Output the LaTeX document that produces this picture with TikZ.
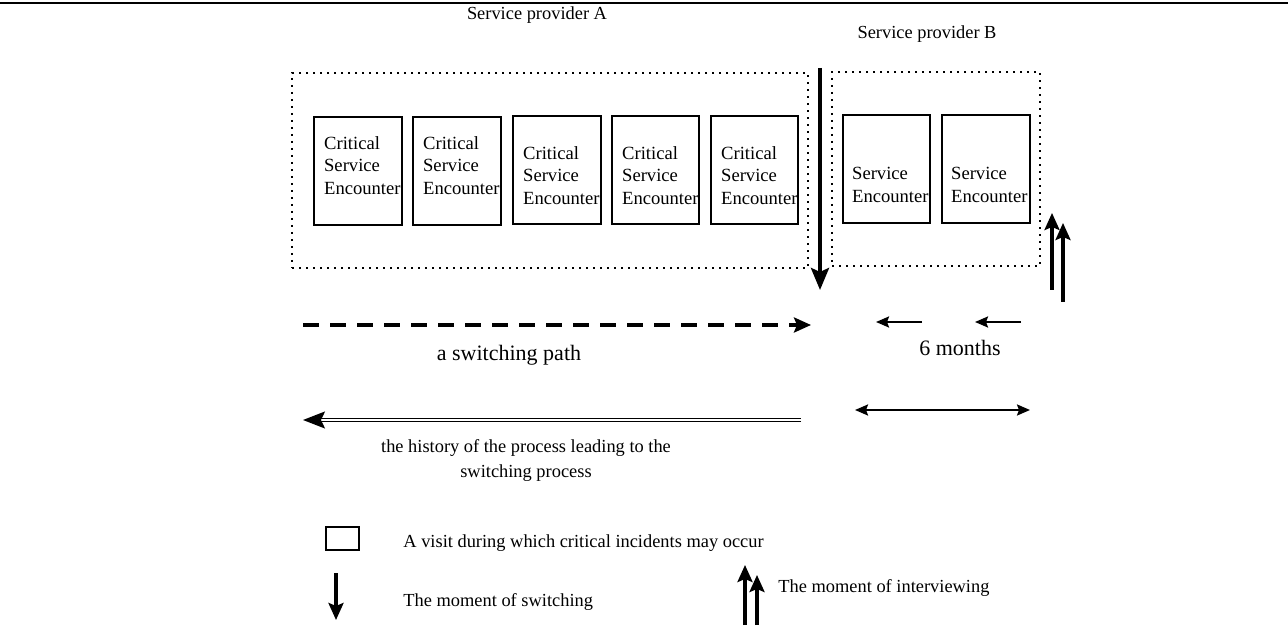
\documentclass[tikz,border=0pt]{standalone}
\usepackage{fontspec}
\setmainfont{Liberation Serif}
\usetikzlibrary{arrows.meta,positioning}

\tikzset{
  encbox/.style={draw, line width=1.25pt, minimum width=44pt, minimum height=54pt, inner sep=0pt},
  enctext/.style={align=left, anchor=west, inner sep=0pt, font=\fontsize{9.3}{11.25}\selectfont},
  providerbox/.style={draw, line width=1.1pt, dash pattern=on 1pt off 2.5pt, inner sep=0pt},
  smalltext/.style={inner sep=0pt, font=\fontsize{9.2}{12.5}\selectfont},
  bigtext/.style={inner sep=0pt, font=\fontsize{11}{13}\selectfont},
  switcharrow/.style={line width=2pt, -{Stealth[length=11pt,width=9pt,inset=2pt]}},
  interviewarrow/.style={line width=1.6pt, -{Stealth[length=8.5pt,width=7.5pt,inset=1.5pt]}},
  montharrow/.style={line width=1.1pt, -{Stealth[length=6.5pt,width=5.5pt,inset=1pt]}},
}

\begin{document}
\begin{tikzpicture}[x=0.5pt, y=-0.5pt]
        \useasboundingbox (0,0) rectangle (1288,635);

        % Rule at the top
        \coordinate (ruleleft) at (0,3);
        \coordinate (ruleright) at (1288,3);
        \draw[line width=1.4pt] (ruleleft) -- (ruleright);

        % Provider headings
        \node[smalltext] (provA) at (537,15) {Service provider A};
        \node[smalltext] (provB) at (927,34) {Service provider B};

        % Dotted provider boxes
        \node[providerbox, minimum width=258pt, minimum height=97.5pt] (boxA) at (550,170.5) {};
        \node[providerbox, minimum width=104pt, minimum height=97pt] (boxB) at (936,169) {};

        % Critical service encounters (provider A)
        \node[encbox] (cse1) at (358,171) {};
        \node[encbox] (cse2) at (457,171) {};
        \node[encbox] (cse3) at (557,170) {};
        \node[encbox, minimum width=43.5pt] (cse4) at (655.5,170) {};
        \node[encbox, minimum width=43.5pt] (cse5) at (754.5,170) {};
        \node[enctext] at ([xshift=5.5pt, yshift=2.75pt]cse1.west) {Critical\\Service\\Encounter};
        \node[enctext] at ([xshift=5.5pt, yshift=2.75pt]cse2.west) {Critical\\Service\\Encounter};
        \node[enctext] at ([xshift=5.5pt, yshift=-2.75pt]cse3.west) {Critical\\Service\\Encounter};
        \node[enctext] at ([xshift=5.5pt, yshift=-2.75pt]cse4.west) {Critical\\Service\\Encounter};
        \node[enctext] at ([xshift=5.5pt, yshift=-2.75pt]cse5.west) {Critical\\Service\\Encounter};

        % Service encounters (provider B)
        \node[encbox, minimum width=43.5pt] (se1) at (886.5,169) {};
        \node[encbox] (se2) at (986,169) {};
        \node[enctext] at ([xshift=5pt, yshift=-8pt]se1.west) {Service\\Encounter};
        \node[enctext] at ([xshift=5pt, yshift=-8pt]se2.west) {Service\\Encounter};

        % Moment of switching
        \coordinate (switchtop) at (820,68);
        \coordinate (switchtip) at (820,290);
        \draw[switcharrow] (switchtop) -- (switchtip);

        % Moment of interviewing
        \coordinate (intAfoot) at (1052,290);
        \coordinate (intAtip) at (1052,213);
        \coordinate (intBfoot) at (1063,302);
        \coordinate (intBtip) at (1063,223);
        \draw[interviewarrow] (intAfoot) -- (intAtip);
        \draw[interviewarrow] (intBfoot) -- (intBtip);

        % Switching path
        \coordinate (pathstart) at (303,325);
        \coordinate (pathend) at (811,325);
        \draw[line width=1.9pt, dash pattern=on 8pt off 5.5pt, -{Stealth[length=8.5pt,width=7.5pt,inset=1.5pt]}] (pathstart) -- (pathend);
        \node[bigtext] (pathlabel) at (509,355) {a switching path};

        % Six months
        \coordinate (monAstart) at (922,322);
        \coordinate (monAend) at (876,322);
        \coordinate (monBstart) at (1021,322);
        \coordinate (monBend) at (975,322);
        \draw[montharrow] (monAstart) -- (monAend);
        \draw[montharrow] (monBstart) -- (monBend);
        \node[bigtext] (months) at (960,348) {6 months};
        \coordinate (spanleft) at (855,410);
        \coordinate (spanright) at (1030,410);
        \draw[line width=1.1pt, {Stealth[length=6.5pt,width=5.5pt,inset=1pt]}-{Stealth[length=6.5pt,width=5.5pt,inset=1pt]}] (spanleft) -- (spanright);

        % History of the process
        \coordinate (histstart) at (801,420);
        \coordinate (histend) at (303,420);
        \draw[double, line width=0.8pt, double distance=0.8pt, -{Stealth[length=11pt,width=8.5pt,inset=2pt]}] (histstart) -- (histend);
        \node[smalltext, align=center] (histlabel) at (526,460.5) {the history of the process leading to the\\switching process};

        % Legend
        \node[draw, line width=1.25pt, minimum width=16.5pt, minimum height=11.5pt, inner sep=0pt] (legbox) at (342.5,538.5) {};
        \node[smalltext, anchor=west] (legvisit) at (403,543) {A visit during which critical incidents may occur};
        \coordinate (legswtop) at (336,573);
        \coordinate (legswtip) at (336,620);
        \draw[line width=1.6pt, -{Stealth[length=8.5pt,width=7.5pt,inset=1.5pt]}] (legswtop) -- (legswtip);
        \node[smalltext, anchor=west] (legswitch) at (403,602) {The moment of switching};
        \coordinate (legintAfoot) at (745,625);
        \coordinate (legintAtip) at (745,565);
        \coordinate (legintBfoot) at (757,625);
        \coordinate (legintBtip) at (757,575);
        \draw[interviewarrow] (legintAfoot) -- (legintAtip);
        \draw[interviewarrow] (legintBfoot) -- (legintBtip);
        \node[smalltext, anchor=west] (leginterview) at (778,588) {The moment of interviewing};
    \end{tikzpicture}
\end{document}
